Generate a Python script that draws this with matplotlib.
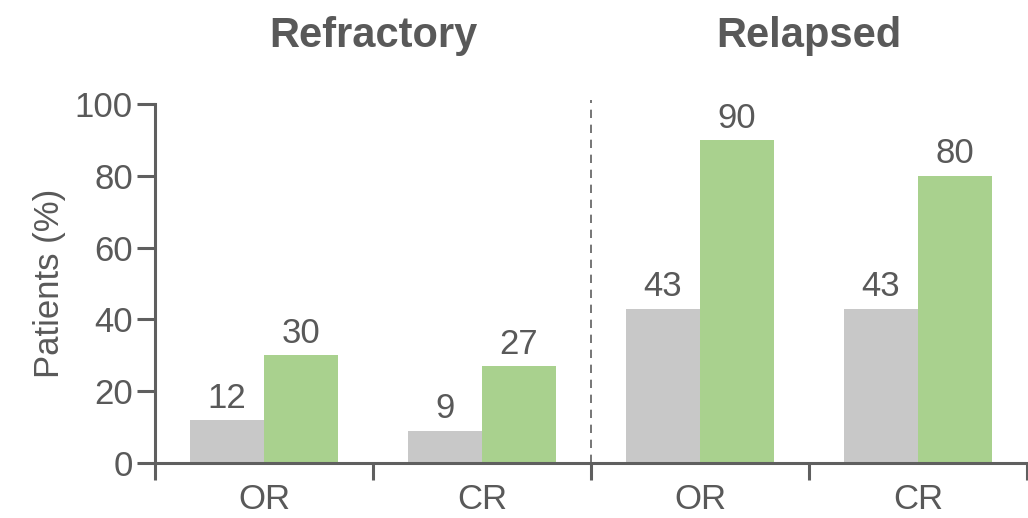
import matplotlib.pyplot as plt
import numpy as np

categories = ["OR", "CR", "OR", "CR"]
groups = ["Refractory", "Relapsed"]
gray_values = [12, 9, 43, 43]
green_values = [30, 27, 90, 80]

TEXT = "#595959"
AXIS = "#5f5f5f"
GRAY = "#c8c8c8"
GREEN = "#a9d18e"

plt.rcParams.update({"font.family": "Liberation Sans", "font.size": 25})

fig = plt.figure(figsize=(10.28, 5.18), dpi=100)
ax = fig.add_axes([155 / 1028, 1 - 463 / 518, 872 / 1028, (463 - 104) / 518])

x = np.arange(len(categories))
w = 0.34
ax.bar(x - w, gray_values, width=w, align="edge", color=GRAY)
ax.bar(x, green_values, width=w, align="edge", color=GREEN)

for xi, v in zip(x - w / 2, gray_values):
    ax.text(xi, v + 1.5, str(v), ha="center", va="bottom", color=TEXT, fontsize=25)
for xi, v in zip(x + w / 2, green_values):
    ax.text(xi, v + 1.5, str(v), ha="center", va="bottom", color=TEXT, fontsize=25)

ax.set_xlim(-0.5, len(categories) - 0.5)
ax.set_ylim(0, 100)
ax.set_yticks([0, 20, 40, 60, 80, 100])
ax.set_xticks(np.arange(len(categories) + 1) - 0.5)
ax.set_xticklabels([])
for xi, lab in zip(x, categories):
    ax.text(xi, -5.6, lab, ha="center", va="top", color=TEXT, fontsize=25)

ax.tick_params(axis="y", length=13, width=2.2, color=AXIS, labelcolor=TEXT,
               labelsize=25, pad=3)
ax.tick_params(axis="x", length=12, width=2.2, color=AXIS)
for s in ["top", "right"]:
    ax.spines[s].set_visible(False)
for s in ["left", "bottom"]:
    ax.spines[s].set_color(AXIS)
    ax.spines[s].set_linewidth(2.2)

ax.set_ylabel("Patients (%)", color=TEXT, fontsize=25, labelpad=6)

ax.plot([1.5, 1.5], [0, 101], color=AXIS, lw=1.2, ls=(0, (5, 4)), clip_on=False)

for gi, g in enumerate(groups):
    ax.text(0.5 + 2 * gi, 119, g, ha="center", va="center", color=TEXT,
            fontsize=30, fontweight="bold", clip_on=False)

fig.savefig("out.png", dpi=100)
